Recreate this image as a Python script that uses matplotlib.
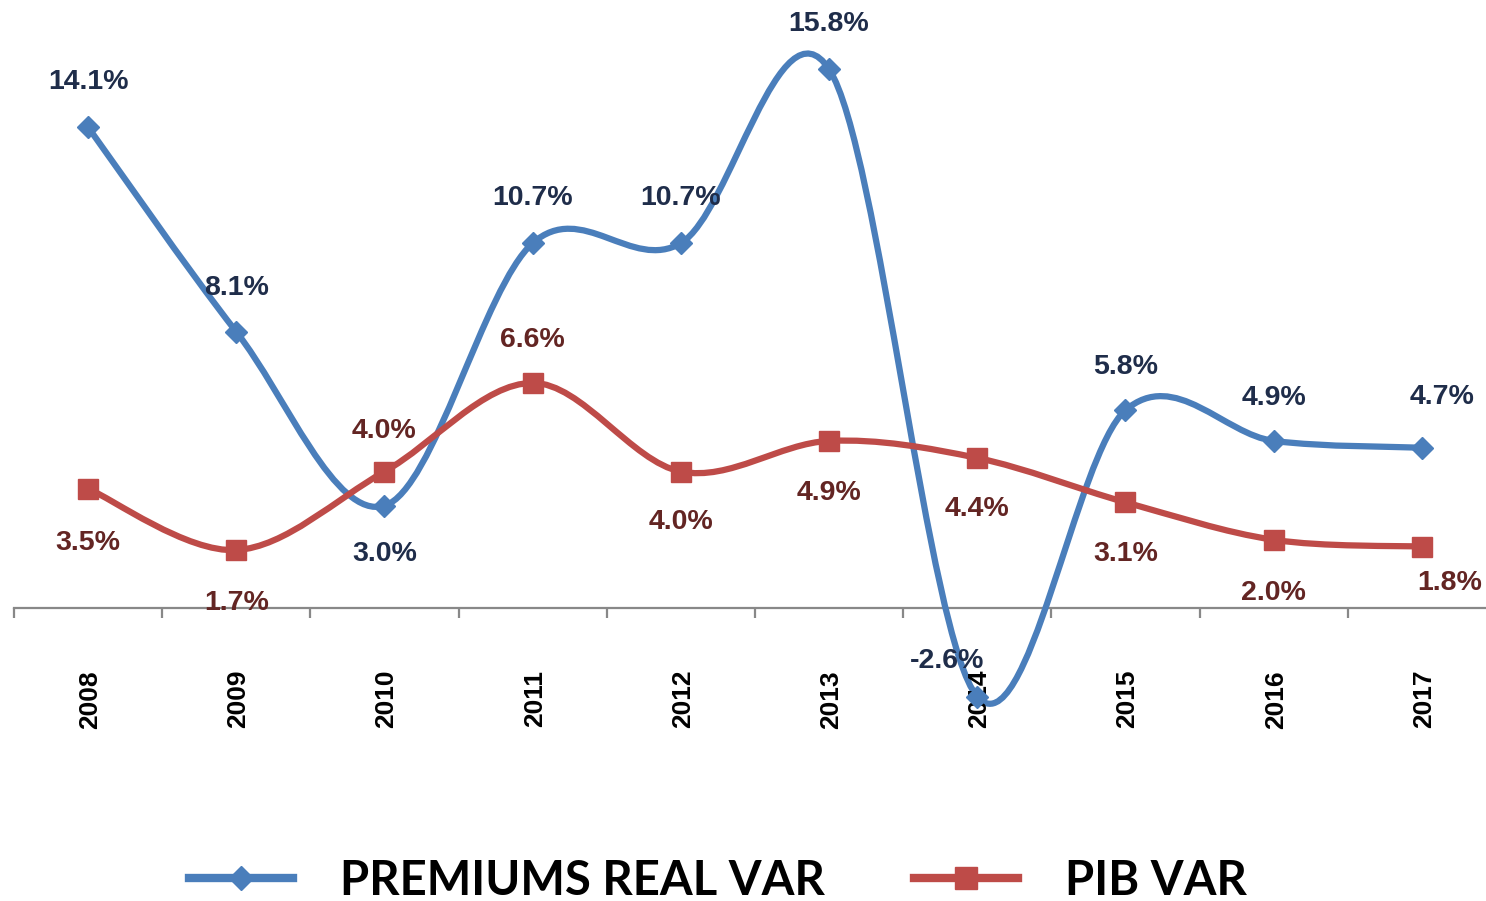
import numpy as np
import matplotlib
matplotlib.use('Agg')
import matplotlib.pyplot as plt
from matplotlib.path import Path
from matplotlib.patches import PathPatch
from matplotlib.lines import Line2D

# Dữ liệu
years = ['2008', '2009', '2010', '2011', '2012', '2013', '2014', '2015', '2016', '2017']
premiums = [14.1, 8.1, 3.0, 10.7, 10.7, 15.8, -2.6, 5.8, 4.9, 4.7]
pib = [3.5, 1.7, 4.0, 6.6, 4.0, 4.9, 4.4, 3.1, 2.0, 1.8]

# vị trí nhãn (pixel offset) cho từng điểm
prem_off = [(0, 45), (0, 44), (0, -48), (0, 45), (0, 45), (0, 45), (-30, 36), (0, 43), (0, 43), (20, 51)]
pib_off = [(0, -54), (0, -53), (0, 41), (0, 43), (0, -50), (0, -52), (0, -51), (0, -52), (0, -53), (28, -36)]

blue = '#4A7EBB'
red = '#BE4B48'
blue_txt = '#1F2D4A'
red_txt = '#632523'
label_font = ['Liberation Sans', 'DejaVu Sans']


def smooth_path(xs, ys):
    # đường cong Bezier kiểu Excel (Catmull-Rom)
    pts = np.column_stack([xs, ys]).astype(float)
    n = len(pts)
    verts = [pts[0]]
    codes = [Path.MOVETO]
    for i in range(n - 1):
        p0 = pts[i - 1] if i > 0 else pts[i]
        p1 = pts[i]
        p2 = pts[i + 1]
        p3 = pts[i + 2] if i + 2 < n else pts[i + 1]
        c1 = p1 + (p2 - p0) / 6.0
        c2 = p2 - (p3 - p1) / 6.0
        verts += [c1, c2, p2]
        codes += [Path.CURVE4] * 3
    return Path(verts, codes)


fig = plt.figure(figsize=(14.86, 9.01), dpi=100)
ax = fig.add_axes([14 / 1486, 0, 1 - 14 / 1486, 1])
x = np.arange(len(years))

for vals, col in [(premiums, blue), (pib, red)]:
    ax.add_patch(PathPatch(smooth_path(x, vals), fill=False, edgecolor=col,
                           linewidth=4.5, capstyle='round', joinstyle='round', zorder=3))

ax.plot(x, premiums, linestyle='none', marker='D', markersize=11, color=blue, zorder=4)
ax.plot(x, pib, linestyle='none', marker='s', markersize=14, color=red, zorder=4)

for i in range(len(years)):
    ax.annotate(f'{premiums[i]:.1f}%', (x[i], premiums[i]), xytext=prem_off[i],
                textcoords='offset pixels', ha='center', va='center',
                fontsize=20.5, fontweight='bold', color=blue_txt, family=label_font, zorder=5)
    ax.annotate(f'{pib[i]:.1f}%', (x[i], pib[i]), xytext=pib_off[i],
                textcoords='offset pixels', ha='center', va='center',
                fontsize=20.5, fontweight='bold', color=red_txt, family=label_font, zorder=5)

# trục x
for s in ['top', 'right', 'left']:
    ax.spines[s].set_visible(False)
ax.spines['bottom'].set_position(('data', 0))
ax.spines['bottom'].set_color('#888888')
ax.spines['bottom'].set_linewidth(1.6)
ax.set_yticks([])
ax.set_xticks(np.arange(-0.5, 10, 1.0))
ax.set_xticklabels([])
ax.tick_params(axis='x', direction='out', length=7, width=1.6, color='#888888')

for i, yr in enumerate(years):
    ax.annotate(yr, (x[i], 0), xytext=(2, -62), textcoords='offset pixels',
                rotation=90, ha='center', va='top', fontsize=19, fontweight='bold',
                color='black', family=label_font)

ax.set_xlim(-0.5, -0.5 + 1472 / 148.2)
ax.set_ylim(-(901 - 608) / 34.1, 608 / 34.1)

handles = [Line2D([], [], color=blue, linewidth=6, marker='D', markersize=12),
           Line2D([], [], color=red, linewidth=6, marker='s', markersize=16)]
fig.legend(handles, ['PREMIUMS REAL VAR', 'PIB VAR'], loc='center',
           bbox_to_anchor=(718 / 1486, 1 - 881 / 901), ncol=2, frameon=False,
           prop={'family': 'Lato', 'weight': 'bold', 'size': 34},
           handlelength=2.2, handletextpad=1.0, columnspacing=1.9)

fig.savefig('out.png', dpi=100)
